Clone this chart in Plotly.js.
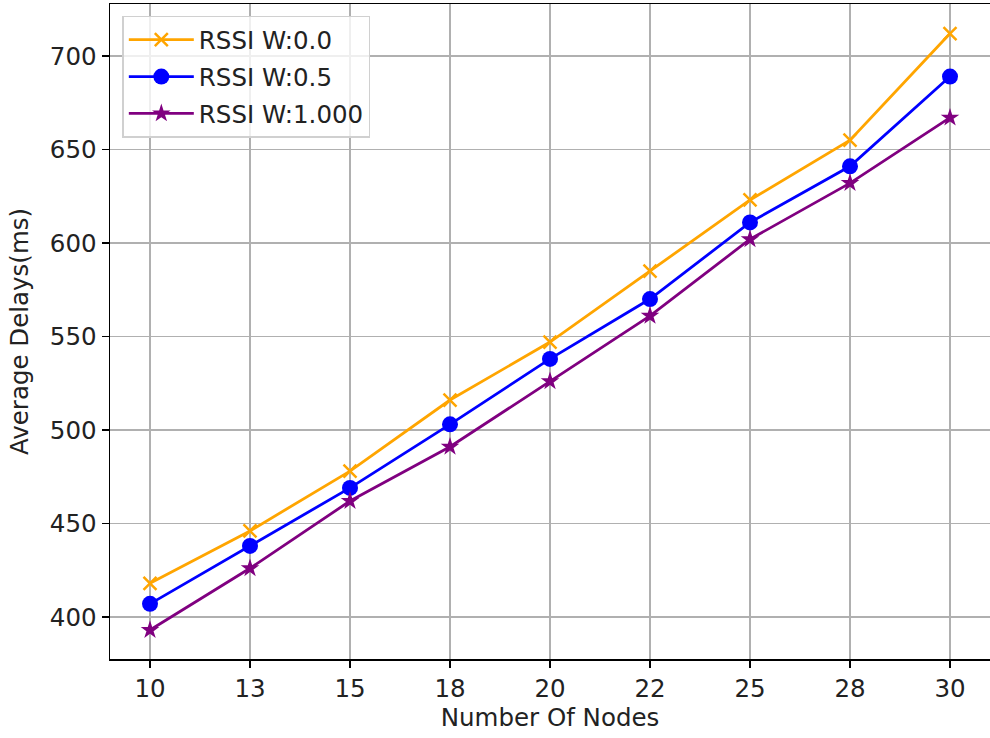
<!DOCTYPE html>
<html>
<head>
<meta charset="utf-8">
<script src="https://cdn.plot.ly/plotly-3.0.1.min.js"></script>
<style>html,body{margin:0;padding:0;background:#fff;}#chart{width:990px;height:738px;}</style>
</head>
<body>
<div id="chart"></div>
<script>
const nodes = ["10", "13", "15", "18", "20", "22", "25", "28", "30"];
const rssiW00 = [418, 446, 478, 516, 547, 585, 623, 655, 712];
const rssiW05 = [407, 438, 469, 503, 538, 570, 611, 641, 689];
const rssiW10 = [393, 426, 462, 491, 526, 561, 602, 632, 667];
const seriesNames = ["RSSI W:0.0", "RSSI W:0.5", "RSSI W:1.000"];

const traces = [
  {x: nodes, y: rssiW00, name: seriesNames[0], legendgroup: "a", mode: "lines+markers", type: "scatter",
   line: {color: "#FFA500", width: 2.8}, marker: {symbol: "x-thin", size: 13, color: "#FFA500", line: {color: "#FFA500", width: 2.5}}},
  {x: nodes, y: rssiW05, name: seriesNames[1], legendgroup: "b", mode: "lines+markers", type: "scatter",
   line: {color: "#0000FF", width: 2.8}, marker: {symbol: "circle", size: 16, color: "#0000FF"}},
  {x: nodes, y: rssiW10, name: seriesNames[2], legendgroup: "c", mode: "lines+markers", type: "scatter",
   line: {color: "#800080", width: 2.8}, marker: {symbol: "star", size: 14, color: "#800080"}}
];

const layout = {
  width: 990, height: 738,
  margin: {l: 110, r: 0, t: 4, b: 79},
  paper_bgcolor: "#fff", plot_bgcolor: "#fff",
  font: {family: "DejaVu Sans", size: 24.5, color: "#222"},
  showlegend: true,
  legend: {x: 0.014, y: 0.982, xanchor: "left", yanchor: "top", bgcolor: "rgba(255,255,255,0.8)",
           bordercolor: "#d0d0d0", borderwidth: 1.5, font: {size: 24.5, color: "#222"}, tracegroupgap: 2,
           itemwidth: 65},
  xaxis: {
    type: "category", range: [-0.4, 8.4],
    title: {text: "Number Of Nodes", font: {size: 24.5}, standoff: 6},
    tickfont: {size: 24.5},
    showgrid: true, gridcolor: "#b0b0b0", gridwidth: 1.5,
    showline: true, linecolor: "#000", linewidth: 1.5, mirror: true,
    ticks: "outside", ticklen: 7, tickwidth: 1.5, tickcolor: "#000",
    zeroline: false
  },
  yaxis: {
    range: [377.5, 727.8], tickvals: [400, 450, 500, 550, 600, 650, 700],
    title: {text: "Average Delays(ms)", font: {size: 24.5}, standoff: 14},
    tickfont: {size: 24.5},
    showgrid: true, gridcolor: "#b0b0b0", gridwidth: 1.5,
    showline: true, linecolor: "#000", linewidth: 1.5, mirror: true,
    ticks: "outside", ticklen: 7, tickwidth: 1.5, tickcolor: "#000",
    zeroline: false
  }
};

Plotly.newPlot("chart", traces, layout, {displayModeBar: false, staticPlot: true});
</script>
</body>
</html>
